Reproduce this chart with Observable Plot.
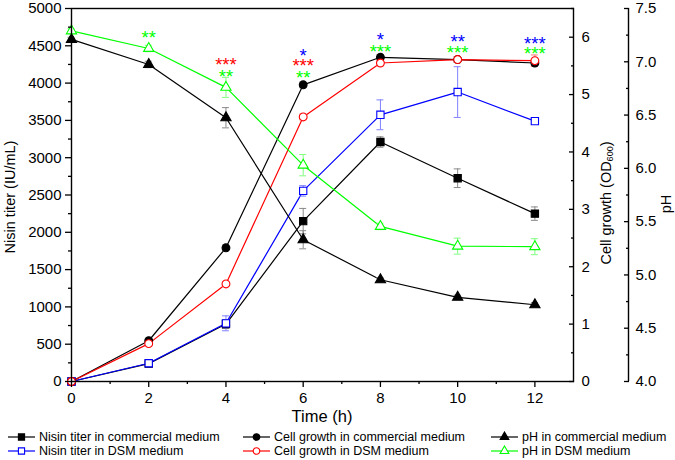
<!DOCTYPE html>
<html><head><meta charset="utf-8">
<script src="https://cdn.jsdelivr.net/npm/d3@7"></script>
<script src="https://cdn.jsdelivr.net/npm/@observablehq/plot@0.6"></script>
<style>
body{margin:0;background:#fff;font-family:"Liberation Sans",Arial,sans-serif;}
#wrap{position:relative;width:675px;height:460px;overflow:hidden;}
.leg{position:absolute;height:14px;font-size:12.5px;line-height:14px;white-space:nowrap;color:#000;}
.leg svg{position:absolute;left:0;top:1px;}
.leg span{position:absolute;top:0;}
</style></head><body><div id="wrap"></div>
<script>
// ---- data ----
const time = [0, 2, 4, 6, 8, 10, 12];
const nisinCom = [0, 240, 770, 2150, 3210, 2725, 2250];
const nisinComErr = [0, 20, 60, 170, 70, 125, 90];
const nisinDSM = [0, 245, 780, 2555, 3575, 3880, 3490];
const nisinDSMErr = [0, 20, 100, 70, 200, 340, 30];
const cellCom = [0, 0.71, 2.33, 5.17, 5.65, 5.61, 5.55];
const cellComErr = [0, 0.02, 0.05, 0.05, 0.05, 0.05, 0.05];
const cellDSM = [0, 0.66, 1.70, 4.61, 5.55, 5.61, 5.59];
const cellDSMErr = [0, 0.03, 0.04, 0.05, 0.05, 0.05, 0.1];
const pHCom = [7.21, 6.975, 6.475, 5.33, 4.955, 4.79, 4.72];
const pHComErr = [0.02, 0.03, 0.095, 0.085, 0.02, 0.02, 0.02];
const pHDSM = [7.29, 7.125, 6.76, 6.03, 5.455, 5.27, 5.265];
const pHDSMErr = [0.02, 0.03, 0.094, 0.1, 0.03, 0.075, 0.075];

// significance stars: time, text, colour key, height (in nisin-titer axis units)
const starTime  = [2, 4, 4, 6, 6, 6, 8, 8, 10, 10, 12, 12];
const starText  = ["**", "***", "**", "*", "***", "**", "*", "***", "**", "***", "***", "***"];
const starColor = ["g", "r", "g", "b", "r", "g", "b", "g", "b", "g", "b", "g"];
const starY     = [4670, 4308, 4148, 4429, 4295, 4134, 4643, 4482, 4616, 4469, 4590, 4456];

// axes
const xMajor = [0, 2, 4, 6, 8, 10, 12];
const xMinor = [1, 3, 5, 7, 9, 11];
const nisinMax = 5000, cellMax = 6.5, pHMin = 4, pHMax = 7.5;
const nisinTicks = d3.range(0, 5001, 500);
const nisinMinor = d3.range(250, 5000, 500);
const cellTicks = [0, 1, 2, 3, 4, 5, 6];
const cellMinor = [0.5, 1.5, 2.5, 3.5, 4.5, 5.5, 6.5];
const pHTicks = [4.0, 4.5, 5.0, 5.5, 6.0, 6.5, 7.0, 7.5];
const pHMinor = [4.25, 4.75, 5.25, 5.75, 6.25, 6.75, 7.25];

const colors = {k: "#000000", b: "#0000ff", r: "#ff0000", g: "#00ff00"};
const errColors = {k: "#8a8a8a", b: "#8080ff", r: "#ff8080", g: "#80ff80"};

// map secondary axes onto the primary (nisin) scale
const fromCell = v => v * nisinMax / cellMax;
const fromPH = v => (v - pHMin) * nisinMax / (pHMax - pHMin);
const id = v => v;

const series = [
  {name: "Nisin titer in commercial medium", v: nisinCom, e: nisinComErr, f: id, c: "k", sym: "square", fill: true},
  {name: "Nisin titer in DSM medium", v: nisinDSM, e: nisinDSMErr, f: id, c: "b", sym: "square", fill: false},
  {name: "Cell growth in commercial medium", v: cellCom, e: cellComErr, f: fromCell, c: "k", sym: "circle", fill: true},
  {name: "Cell growth in DSM medium", v: cellDSM, e: cellDSMErr, f: fromCell, c: "r", sym: "circle", fill: false},
  {name: "pH in commercial medium", v: pHCom, e: pHComErr, f: fromPH, c: "k", sym: "triangle", fill: true},
  {name: "pH in DSM medium", v: pHDSM, e: pHDSMErr, f: fromPH, c: "g", sym: "triangle", fill: false}
];

const symR = {square: 4.1, circle: 3.9, triangle: 3.8};
const capHalf = 0.09;
const marks = [];
for (const s of series) {
  const rows = time.map((t, i) => ({t, y: s.f(s.v[i]), lo: s.f(s.v[i] - s.e[i]), hi: s.f(s.v[i] + s.e[i])}));
  marks.push(Plot.line(rows, {x: "t", y: "y", stroke: colors[s.c], strokeWidth: 1.2}));
  const er = rows.filter(d => d.hi - d.lo > 1);
  marks.push(Plot.ruleX(er, {x: "t", y1: "lo", y2: "hi", stroke: errColors[s.c], strokeWidth: 1}));
  marks.push(Plot.ruleY(er, {y: "lo", x1: d => d.t - capHalf, x2: d => d.t + capHalf, stroke: errColors[s.c], strokeWidth: 1}));
  marks.push(Plot.ruleY(er, {y: "hi", x1: d => d.t - capHalf, x2: d => d.t + capHalf, stroke: errColors[s.c], strokeWidth: 1}));
}
for (const s of series) {
  const rows = time.map((t, i) => ({t, y: s.f(s.v[i])}));
  marks.push(Plot.dot(rows, {x: "t", y: "y", symbol: () => s.sym, r: symR[s.sym],
    fill: s.fill ? colors[s.c] : "#ffffff", stroke: colors[s.c], strokeWidth: 1.1}));
}

const stars = starTime.map((t, i) => ({t, y: starY[i], text: starText[i], c: colors[starColor[i]]}));
marks.push(Plot.text(stars, {x: "t", y: "y", text: "text", fill: "c", fontSize: 18.5, dy: 5, textAnchor: "middle"}));

const font = "Liberation Sans, Arial, sans-serif";
const plot = Plot.plot({
  width: 675, height: 425,
  marginLeft: 71, marginRight: 102, marginTop: 8, marginBottom: 44,
  style: {fontFamily: font, fontSize: "15px", color: "#000", background: "#fff", overflow: "visible"},
  x: {domain: [0, 13]},
  y: {domain: [0, nisinMax]},
  marks: [
    ...marks,
    Plot.frame({stroke: "#000", strokeWidth: 1.4}),
    Plot.ruleX([13], {dx: 55, stroke: "#000", strokeWidth: 1.4}),
    Plot.axisX({ticks: xMajor, tickSize: 6, tickPadding: 5, label: null, strokeWidth: 1.3, fontSize: 15}),
    Plot.axisX({ticks: xMinor, tickSize: 3, tickFormat: () => "", label: null, strokeWidth: 1.3}),
    Plot.axisY({ticks: nisinTicks, tickSize: 6, tickPadding: 4, label: null, strokeWidth: 1.3, fontSize: 15, tickFormat: d => String(d)}),
    Plot.axisY({ticks: nisinMinor, tickSize: 3, tickFormat: () => "", label: null, strokeWidth: 1.3}),
    Plot.axisY({anchor: "right", ticks: cellTicks.map(fromCell), tickSize: -5, tickPadding: 13, label: null, strokeWidth: 1.3, fontSize: 15,
      tickFormat: v => String(Math.round(v * cellMax / nisinMax))}),
    Plot.axisY({anchor: "right", ticks: cellMinor.map(fromCell), tickSize: -3, tickFormat: () => "", label: null, strokeWidth: 1.3}),
    Plot.axisY({anchor: "right", dx: 55, ticks: pHTicks.map(fromPH), tickSize: -5, tickPadding: 12, label: null, strokeWidth: 1.3, fontSize: 15,
      tickFormat: v => (v * (pHMax - pHMin) / nisinMax + pHMin).toFixed(1)}),
    Plot.axisY({anchor: "right", dx: 55, ticks: pHMinor.map(fromPH), tickSize: -3, tickFormat: () => "", label: null, strokeWidth: 1.3})
  ]
});

const wrap = document.getElementById("wrap");
wrap.appendChild(plot);
const svg = d3.select(plot);
svg.append("text").attr("transform", "translate(11,197) rotate(-90)")
  .attr("text-anchor", "middle").attr("dominant-baseline", "middle")
  .style("font-size", "14.5px").attr("fill", "#000").text("Nisin titer (IU/mL)");
const ct = svg.append("text").attr("transform", "translate(607,203) rotate(-90)")
  .attr("text-anchor", "middle").attr("dominant-baseline", "middle")
  .style("font-size", "14.5px").attr("fill", "#000");
ct.append("tspan").text("Cell growth (OD");
ct.append("tspan").attr("dy", "4").style("font-size", "9px").text("600");
ct.append("tspan").attr("dy", "-4").text(")");
svg.append("text").attr("transform", "translate(667,204) rotate(-90)")
  .attr("text-anchor", "middle").attr("dominant-baseline", "middle")
  .style("font-size", "14.5px").attr("fill", "#000").text("pH");
svg.append("text").attr("x", 322).attr("y", 418)
  .attr("text-anchor", "middle").attr("dominant-baseline", "middle")
  .style("font-size", "16.5px").attr("fill", "#000").text("Time (h)");

// ---- legend (HTML below the SVG) ----
const legCols = [8, 243, 491];
const legRows = [430, 444];
const symType = {square: d3.symbolSquare, circle: d3.symbolCircle, triangle: d3.symbolTriangle};
series.forEach((s, i) => {
  const col = Math.floor(i / 2), row = i % 2;
  const div = document.createElement("div");
  div.className = "leg";
  div.style.left = legCols[col] + "px";
  div.style.top = legRows[row] + "px";
  div.style.width = "240px";
  const rr = symR[s.sym] * 0.85;
  const path = d3.symbol(symType[s.sym], Math.PI * rr * rr)();
  div.innerHTML = `<svg width="30" height="12"><line x1="0" x2="27" y1="6" y2="6" stroke="${colors[s.c]}" stroke-width="1.2"/>` +
    `<path d="${path}" transform="translate(13.5,6)" fill="${s.fill ? colors[s.c] : "#fff"}" stroke="${colors[s.c]}" stroke-width="1.1"/></svg>` +
    `<span style="left:31px">${s.name}</span>`;
  wrap.appendChild(div);
});
</script></body></html>
